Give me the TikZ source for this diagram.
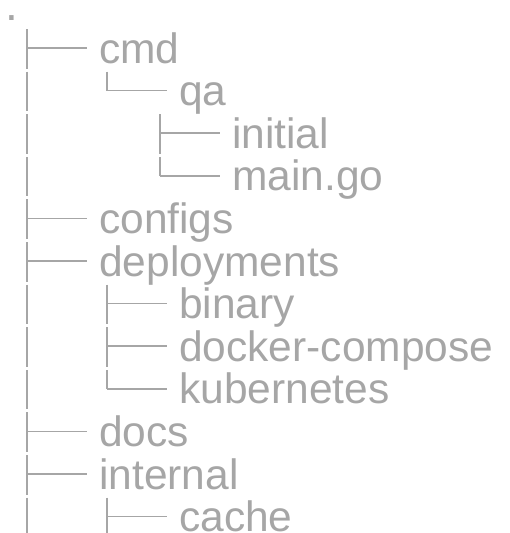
\documentclass[tikz,border=0pt]{standalone}
\usepackage{fontspec}
\setmainfont{Liberation Sans}
\usetikzlibrary{positioning}
\definecolor{treegray}{RGB}{166,166,166}
\tikzset{
  entry/.style={anchor=west,inner xsep=12pt,inner ysep=0pt,text height=30pt,text depth=0pt,
    font=\fontsize{42.5}{42.5}\selectfont,text=treegray},
  branch/.style={draw=treegray,line width=1.7pt},
  trunk/.style={draw=treegray,line width=1.7pt,dash pattern=on 39.6pt off 3pt},
}

\begin{document}
\begin{tikzpicture}[x=1pt,y=-1pt]
  \useasboundingbox (0,0) rectangle (509,533);
  \node[text=treegray,font=\fontsize{46}{46}\selectfont,inner sep=0pt,text height=5pt,
    text depth=0pt,anchor=base] (root) at (12,20.5) {.};
  % trunks
  \coordinate (t0) at (27,29);     \coordinate (e0) at (27,533);
  \coordinate (tcmd) at (107,71.6);
  \coordinate (tqa) at (160,114.2);
  \coordinate (tdep) at (107,284.6);
  \coordinate (tint) at (107,497.6); \coordinate (eint) at (107,533);
  % entries
  \node[entry] (cmd) at (87,48) {cmd};
  \node[entry] (qa) at (167,90.6) {qa};
  \node[entry] (initial) at (220,133.2) {initial};
  \node[entry] (maingo) at (220,175.8) {main.go};
  \node[entry] (configs) at (87,218.4) {configs};
  \node[entry] (deploy) at (87,261) {deployments};
  \node[entry] (binary) at (167,303.6) {binary};
  \node[entry] (compose) at (167,346.2) {docker-compose};
  \node[entry] (kube) at (167,388.8) {kubernetes};
  \node[entry] (docs) at (87,431.4) {docs};
  \node[entry] (internal) at (87,474) {internal};
  \node[entry] (cache) at (167,516.6) {cache};
  % vertical lines
  \draw[trunk] (t0) -- (e0);
  \draw[trunk] (tcmd) -- (tcmd |- qa.west);
  \draw[trunk] (tqa) -- (tqa |- maingo.west);
  \draw[trunk] (tdep) -- (tdep |- kube.west);
  \draw[trunk] (tint) -- (eint);
  % branches
  \foreach \n in {cmd,configs,deploy,docs,internal}
    \draw[branch] (t0 |- \n.west) -- (\n.west);
  \draw[branch] (tcmd |- qa.west) -- (qa.west);
  \foreach \n in {initial,maingo}
    \draw[branch] (tqa |- \n.west) -- (\n.west);
  \foreach \n in {binary,compose,kube}
    \draw[branch] (tdep |- \n.west) -- (\n.west);
  \draw[branch] (tint |- cache.west) -- (cache.west);
\end{tikzpicture}
\end{document}
